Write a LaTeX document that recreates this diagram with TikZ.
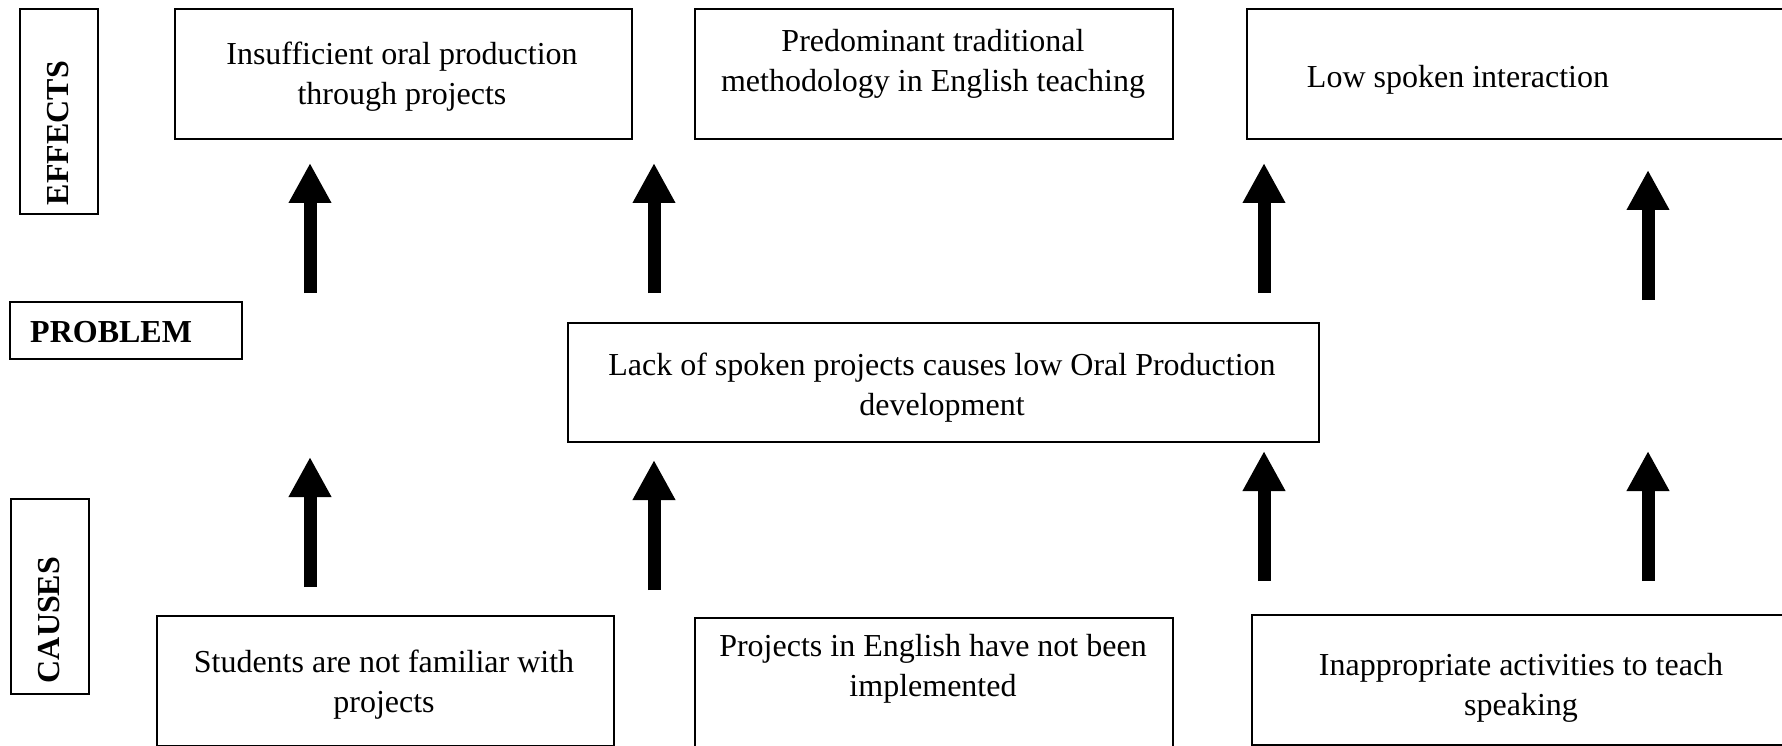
\documentclass[tikz,border=0pt]{standalone}
\usepackage{fontspec}
\setmainfont{Liberation Serif}
\usetikzlibrary{arrows.meta}
\begin{document}
\begin{tikzpicture}[x=1pt,y=-1pt,
  box/.style={draw, line width=1.6pt, inner sep=0pt, anchor=north west},
  txt/.style={font=\fontsize{32}{40}\selectfont, align=center, inner sep=0pt},
  lbl/.style={font=\fontsize{32}{38}\selectfont\bfseries, inner sep=0pt},
  bigarrow/.style={line width=13pt, -{Triangle[width=40pt,length=40pt]}}]
\useasboundingbox (0,0) rectangle (1782,746);
\clip (0,0) rectangle (1782,746);
% side labels
\node[box, minimum width=78pt, minimum height=205pt] (effb) at (19,8) {};
\node[lbl, rotate=90] (efft) at (58,133) {EFFECTS};
\node[box, minimum width=232pt, minimum height=57pt] (probb) at (9,301) {};
\node[lbl, anchor=west] (probt) at (30,332) {PROBLEM};
\node[box, minimum width=78pt, minimum height=195pt] (caub) at (10,498) {};
\node[lbl, rotate=90] (caut) at (49,620) {CAUSES};
% effects
\node[box, minimum width=457pt, minimum height=130pt] (e1) at (174,8) {};
\node[txt] (e1t) at (402,77) {Insufficient oral production\\through projects};
\node[box, minimum width=478pt, minimum height=130pt] (e2) at (694,8) {};
\node[txt] (e2t) at (933,64) {Predominant traditional\\methodology in English teaching};
\node[box, minimum width=560pt, minimum height=130pt] (e3) at (1246,8) {};
\node[txt] (e3t) at (1458,80) {Low spoken interaction};
% problem
\node[box, minimum width=751pt, minimum height=119pt] (p) at (567,322) {};
\node[txt] (pt) at (942,388) {Lack of spoken projects causes low Oral Production\\development};
% causes
\node[box, minimum width=457pt, minimum height=130pt] (c1) at (156,615) {};
\node[txt] (c1t) at (384,685) {Students are not familiar with\\projects};
\node[box, minimum width=478pt, minimum height=135pt] (c2) at (694,617) {};
\node[txt] (c2t) at (933,669) {Projects in English have not been\\implemented};
\node[box, minimum width=560pt, minimum height=130pt] (c3) at (1251,614) {};
\node[txt] (c3t) at (1521,688) {Inappropriate activities to teach\\speaking};
% arrows upper row
\coordinate (u1s) at (310,293); \coordinate (u1e) at (310,163);
\coordinate (u2s) at (654,293); \coordinate (u2e) at (654,163);
\coordinate (u3s) at (1264,293); \coordinate (u3e) at (1264,163);
\coordinate (u4s) at (1648,300); \coordinate (u4e) at (1648,170);
\draw[bigarrow] (u1s) -- (u1e);
\draw[bigarrow] (u2s) -- (u2e);
\draw[bigarrow] (u3s) -- (u3e);
\draw[bigarrow] (u4s) -- (u4e);
% arrows lower row
\coordinate (l1s) at (310,587); \coordinate (l1e) at (310,457);
\coordinate (l2s) at (654,590); \coordinate (l2e) at (654,460);
\coordinate (l3s) at (1264,581); \coordinate (l3e) at (1264,451);
\coordinate (l4s) at (1648,581); \coordinate (l4e) at (1648,451);
\draw[bigarrow] (l1s) -- (l1e);
\draw[bigarrow] (l2s) -- (l2e);
\draw[bigarrow] (l3s) -- (l3e);
\draw[bigarrow] (l4s) -- (l4e);
\end{tikzpicture}
\end{document}
